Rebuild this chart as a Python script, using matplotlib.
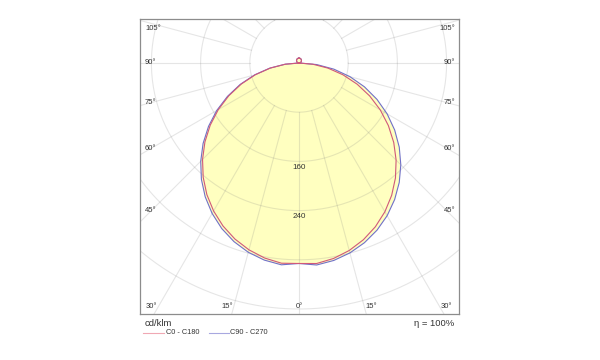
import matplotlib
matplotlib.use('Agg')
import matplotlib.pyplot as plt
from matplotlib.lines import Line2D
import numpy as np

plt.rcParams['font.family'] = ['Liberation Sans', 'DejaVu Sans']

# ---- data (cd/klm) ----
gamma = list(range(0, 181, 5))
tail = [0.7, 1.4, 2.1, 2.7, 3.4, 4.0, 4.6, 5.1, 5.7, 6.1, 6.6, 6.9, 7.3, 7.5, 7.7, 7.9, 8.0, 8.0]
c0 = [326, 327.3, 322.8, 315.6, 305.9, 293.8, 279.3, 262.7, 244.0, 223.3, 201.1, 177.4,
      152.6, 126.8, 100.5, 73.9, 47.7, 22.3, 0] + tail
c180 = [326, 326.8, 322.0, 314.5, 304.6, 292.4, 277.8, 261.2, 242.4, 221.8, 199.7, 176.2,
        151.5, 125.9, 99.8, 73.4, 47.4, 22.2, 0] + tail
c90 = [326, 329.7, 326.0, 319.7, 311.0, 300.0, 286.7, 271.1, 253.6, 234.1, 212.8, 189.9,
       165.5, 139.9, 113.2, 85.7, 57.5, 28.8, 0] + tail
c270 = [326, 329.4, 325.4, 318.6, 309.1, 297.1, 282.5, 265.8, 246.9, 226.0, 203.6, 179.6,
        154.5, 128.3, 101.7, 74.8, 48.3, 22.6, 0] + tail

ring_values = [80, 160, 240, 320, 400]
ring_labels = ['160', '240']
side_angles = [105, 90, 75, 60, 45]
bottom_angles = [-30, -15, 0, 15, 30]
legend_labels = ['C0 - C180', 'C90 - C270']

# ---- layout ----
W, H = 600, 360
fig = plt.figure(figsize=(6, 3.6), dpi=100)
L, R, T, B = 140, 459, 19, 314
cx, cy = 299, 63
s = 0.615  # px per cd
ax = fig.add_axes([L / W, 1 - B / H, (R - L) / W, (B - T) / H])
ax.set_xlim(-(cx - L) / s, (R - cx) / s)
ax.set_ylim(-(B - cy) / s, (cy - T) / s)
ax.set_xticks([]); ax.set_yticks([])
for sp in ax.spines.values():
    sp.set_color('#8c8c8c'); sp.set_linewidth(0.9)

g = np.radians(np.array(gamma, dtype=float))

def half(vals, sign):
    v = np.array(vals, dtype=float)
    return sign * v * np.sin(g), -v * np.cos(g)

def curve(left, right):
    xl, yl = half(left, -1)
    xr, yr = half(right, 1)
    x = np.concatenate([xl[::-1], xr[1:]])
    y = np.concatenate([yl[::-1], yr[1:]])
    return x, y

xr_, yr_ = curve(c180, c0)
xb_, yb_ = curve(c270, c90)
fill_c = '#ffffc0'
ax.fill(xb_, yb_, color=fill_c, lw=0, zorder=1)
ax.fill(xr_, yr_, color=fill_c, lw=0, zorder=1)

grid_kw = dict(color=(0.5, 0.5, 0.5), alpha=0.2, lw=0.8, zorder=2)
t = np.linspace(0, 2 * np.pi, 400)
for r in ring_values:
    ax.plot(r * np.cos(t), r * np.sin(t), **grid_kw)
for a in range(-180, 181, 15):
    ar = np.radians(a)
    ax.plot([80 * np.sin(ar), 1000 * np.sin(ar)], [-80 * np.cos(ar), -1000 * np.cos(ar)], **grid_kw)

ax.plot(xb_, yb_, color='#7070c8', lw=0.8, zorder=3)
ax.plot(xr_, yr_, color='#d0587a', lw=0.8, zorder=3)

tc = '#333333'
for lab in ring_labels:
    r = float(lab)
    ax.text(0, -r - 2.5 / s, lab, ha='center', va='top', fontsize=5.8, color=tc, zorder=4)

def px(x, y):
    return x / W, 1 - y / H

for a in side_angles:
    dy = 147.5 / np.tan(np.radians(a))
    ypx = max(cy + dy, 28.5)
    fig.text(*px(145, ypx), f'{a}°', ha='left', va='center', fontsize=5.5, color=tc)
    fig.text(*px(455, ypx), f'{a}°', ha='right', va='center', fontsize=5.5, color=tc)
for a in bottom_angles:
    off = 243 * np.tan(np.radians(abs(a)))
    off = off + 7 if a != 0 else 0
    xpx = cx + np.sign(a) * off
    fig.text(*px(xpx, 306), f'{abs(a)}°', ha='center', va='center', fontsize=5.5, color=tc)

fig.text(*px(145, 323), 'cd/klm', ha='left', va='center', fontsize=6.8, color=tc)
fig.text(*px(454, 323), 'η = 100%', ha='right', va='center', fontsize=6.8, color=tc)

fig.add_artist(Line2D([143 / W, 164 / W], [1 - 333 / H] * 2, color='#f0a8b4', lw=0.8))
fig.text(*px(166, 333), legend_labels[0], ha='left', va='center', fontsize=5.3, color=tc)
fig.add_artist(Line2D([209 / W, 229 / W], [1 - 333 / H] * 2, color='#a8a8e0', lw=0.8))
fig.text(*px(230, 333), legend_labels[1], ha='left', va='center', fontsize=5.3, color=tc)

fig.savefig('out.png', dpi=100)
